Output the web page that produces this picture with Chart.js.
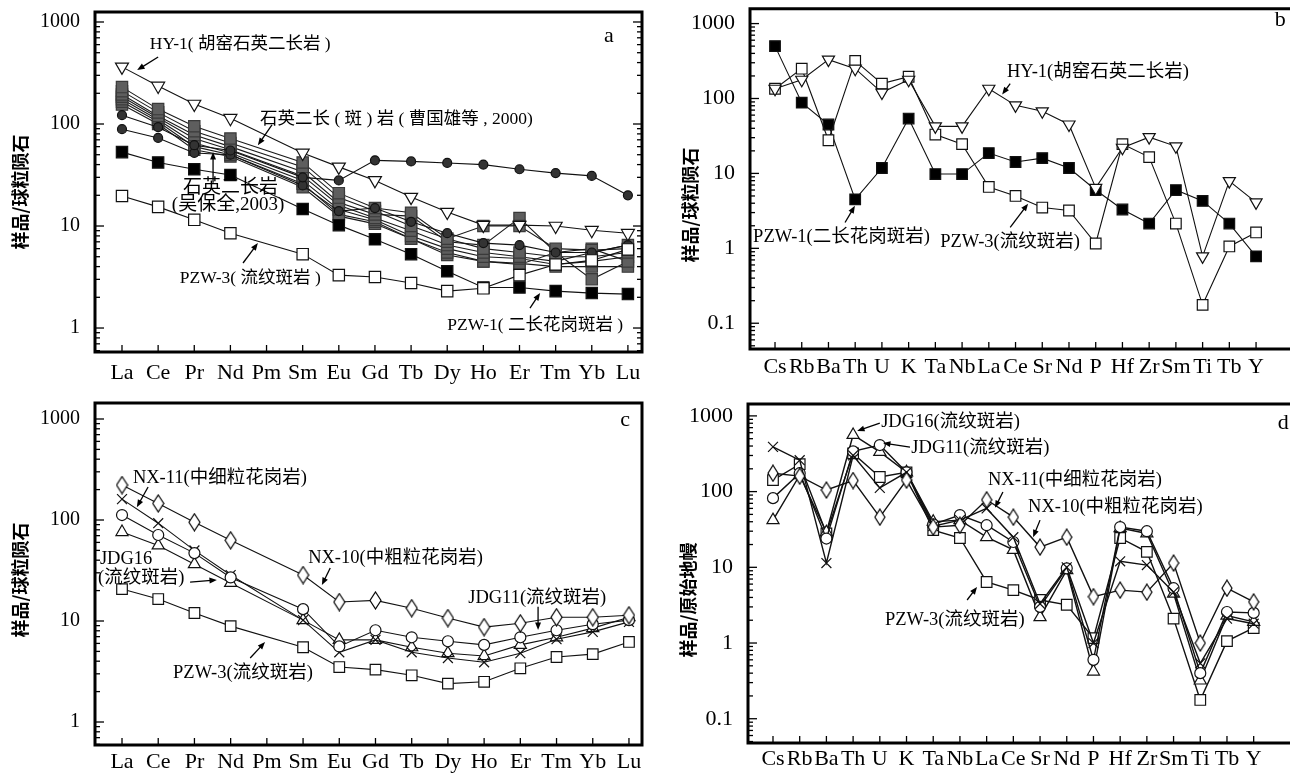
<!DOCTYPE html>
<html>
<head>
<meta charset="utf-8">
<script src="https://cdn.jsdelivr.net/npm/chart.js@4.4.1/dist/chart.umd.min.js"></script>
<style>
  body { margin: 0; background: #fff; width: 1301px; height: 776px; overflow: hidden; position: relative; }
  canvas { position: absolute; }
</style>
</head>
<body>
<canvas id="pa" width="655" height="390" style="left:0;top:0"></canvas>
<canvas id="pb" width="646" height="390" style="left:655px;top:0"></canvas>
<canvas id="pc" width="655" height="386" style="left:0;top:390px"></canvas>
<canvas id="pd" width="646" height="386" style="left:655px;top:390px"></canvas>
<script>
// element order on the x axes
const REE = ['La','Ce','Pr','Nd','Pm','Sm','Eu','Gd','Tb','Dy','Ho','Er','Tm','Yb','Lu'];
const SPIDER = ['Cs','Rb','Ba','Th','U','K','Ta','Nb','La','Ce','Sr','Nd','P','Hf','Zr','Sm','Ti','Tb','Y'];

// panel a: chondrite-normalised REE (Pm not analysed)
const aHY1  = [363,236,157,114,null,52,38,28,19.2,13.7,10.2,10.2,10,9.1,8.5];
const aPZW1 = [53,42,36,31.6,null,14.7,10.2,7.4,5.3,3.6,2.5,2.5,2.3,2.2,2.15];
const aPZW3 = [19.7,15.4,11.5,8.5,null,5.3,3.3,3.16,2.76,2.3,2.45,3.3,4.2,4.6,5.9];
const aCao1 = [122,93,62,55,null,30,28,44,43,41.5,40,36,33,31,20];
const aCao2 = [89,73,52,50,null,25,14,15,11,8.5,6.8,6.5,5.5,5.5,6.5];
const aWu1 = [230,140,95,72,null,42,21,15,13.5,7.5,6,5.5,5,5,5.5];
const aWu2 = [210,130,85,65,null,38,19,14,10,7.5,10,10,6,5.8,6];
const aWu3 = [195,120,78,60,null,34,17,13,12.5,7,6.5,12,5.5,3,4.5];
const aWu4 = [185,115,72,56,null,31,16,12,9,6.5,5.5,5,4.5,5.5,6.5];
const aWu5 = [175,110,65,52,null,28,14.5,11.5,8,6,5,4.8,4.2,4.5,5];
const aWu6 = [165,105,60,50,null,26,13,11,7.5,5.5,4.5,4.3,4,4,4];
const aWu7 = [155,100,56,48,null,24,12.5,10.5,7.5,5.2,4.5,4.2,5.5,6,4.5];

// panel b: chondrite-normalised trace elements
const bPZW1 = [500,88,45,4.5,11.8,54,9.8,9.8,18.7,14.2,16,11.8,6,3.3,2.14,6,4.3,2.14,0.78];
const bHY1  = [135,178,330,250,120,178,42.5,42.5,135,81,67.5,45,6.4,22,30.5,23,0.78,7.9,4.1];
const bPZW3 = [135,250,27.7,318,158,195,33,24.6,6.6,5.0,3.5,3.2,1.16,24.6,16.5,2.14,0.176,1.06,1.63];

// panel c: chondrite-normalised REE
const cNX10  = [222,146,95,63,null,28.5,15.4,16,13.4,10.7,8.7,9.5,10.9,10.9,11.4];
const cNX11  = [161,93,50,28.5,null,10.2,4.9,6.5,4.9,4.3,3.9,4.8,6.6,7.8,9.8];
const cJDG11 = [112,71,47,27,null,13.1,5.6,8.1,6.9,6.3,5.8,6.9,8.1,9.3,10.2];
const cJDG16 = [76,56,36.5,23.8,null,10.2,6.5,6.5,5.5,4.8,4.5,5.8,6.9,8.5,10.9];
const cPZW3  = [20.7,16.5,12,8.9,null,5.5,3.5,3.3,2.9,2.4,2.5,3.4,4.4,4.7,6.2];

// panel d: primitive-mantle-normalised trace elements
const dJDG16 = [42,165,29,560,335,180,40,42,25,17,2.2,9.2,0.42,33,28,4.5,0.32,2.3,1.9];
const dJDG11 = [82,175,24,340,412,180,37,49,36,21.6,3.0,9.7,0.6,34,30,5.3,0.40,2.57,2.5];
const dNX11  = [390,260,11.4,300,112,180,35,42,60,25,3.3,10,1.0,12,10.7,4.7,0.54,2.1,1.8];
const dNX10  = [175,160,105,140,46,142,34,36,78,46,18.5,25,4.1,5,4.7,11.4,1.0,5.3,3.5];
const dPZW3  = [142,230,28,320,156,180,31,24.4,6.4,5.0,3.7,3.2,1.16,24.4,16,2.1,0.177,1.06,1.58];

const SERIF = '"Liberation Serif", "Times New Roman", serif';
const MIXED = '"Liberation Serif", "Noto Sans CJK SC", serif';

// tall open diamond marker
function diamond(w, h) {
  const c = document.createElement('canvas');
  c.width = w; c.height = h;
  const g = c.getContext('2d');
  g.beginPath();
  g.moveTo(w / 2, 1); g.lineTo(w - 1, h / 2); g.lineTo(w / 2, h - 1); g.lineTo(1, h / 2); g.closePath();
  g.fillStyle = '#fff'; g.fill();
  g.strokeStyle = '#000'; g.lineWidth = 1.2; g.stroke();
  return c;
}

function line(vals, st) {
  return Object.assign({
    data: vals.map((v, i) => ({ x: i, y: v })),
    spanGaps: true,
    borderColor: '#111',
    borderWidth: 1.1,
    pointBorderColor: '#111',
    pointBorderWidth: 1.2,
    pointBackgroundColor: '#fff',
    tension: 0
  }, st);
}

const triDown = { pointStyle: 'triangle', rotation: 180, pointRadius: 7.5 };
const triUp = { pointStyle: 'triangle', pointRadius: 7 };
const openSq = { pointStyle: 'rect', pointRadius: 8 };
const blackSq = { pointStyle: 'rect', pointRadius: 8, pointBackgroundColor: '#000' };
const graySq = { pointStyle: 'rect', pointRadius: 8, pointBackgroundColor: '#5e5e5e', pointBorderColor: '#3a3a3a', borderColor: '#1a1a1a' };
const dot = { pointStyle: 'circle', pointRadius: 4.5, pointBackgroundColor: '#333' };
const ring = { pointStyle: 'circle', pointRadius: 5.5 };
const cross = { pointStyle: 'crossRot', pointRadius: 7 };
const dia = { pointStyle: diamond(13, 19), pointRadius: 7 };

function arrow(ctx, x1, y1, x2, y2) {
  const a = Math.atan2(y2 - y1, x2 - x1), h = 8;
  ctx.beginPath();
  ctx.moveTo(x1, y1);
  ctx.lineTo(x2 - Math.cos(a) * h * 0.7, y2 - Math.sin(a) * h * 0.7);
  ctx.stroke();
  ctx.beginPath();
  ctx.moveTo(x2, y2);
  ctx.lineTo(x2 - h * Math.cos(a - 0.38), y2 - h * Math.sin(a - 0.38));
  ctx.lineTo(x2 - h * Math.cos(a + 0.38), y2 - h * Math.sin(a + 0.38));
  ctx.closePath();
  ctx.fill();
}

function deco(o) {
  return {
    id: 'deco',
    afterDraw(chart) {
      const { ctx, chartArea: a, scales: { x, y } } = chart;
      const seg = (x1, y1, x2, y2) => { ctx.beginPath(); ctx.moveTo(x1, y1); ctx.lineTo(x2, y2); ctx.stroke(); };
      ctx.save();
      ctx.strokeStyle = '#000';
      ctx.lineWidth = 1.3;
      // minor and major ticks on the log axis
      const lo = Math.floor(Math.log10(y.min)), hi = Math.ceil(Math.log10(y.max));
      for (let d = lo; d <= hi; d++) {
        for (let m = 1; m < 10; m++) {
          const v = m * Math.pow(10, d);
          if (v < y.min || v > y.max) continue;
          const py = y.getPixelForValue(v), len = m === 1 ? 9 : 5;
          seg(a.left, py, a.left + len, py);
          if (o.rticks) seg(a.right, py, a.right - len, py);
        }
      }
      o.names.forEach((n, i) => {
        const px = x.getPixelForValue(i);
        seg(px, a.bottom, px, a.bottom - 7);
      });
      // axis frame
      ctx.lineWidth = 3;
      ctx.beginPath();
      if (o.box === 'full') {
        ctx.rect(a.left, a.top, a.right - a.left, a.bottom - a.top);
      } else {
        ctx.moveTo(a.right, a.top); ctx.lineTo(a.left, a.top);
        ctx.lineTo(a.left, a.bottom); ctx.lineTo(a.right, a.bottom);
      }
      ctx.stroke();
      // y-axis title
      ctx.fillStyle = '#000';
      ctx.save();
      ctx.translate(o.title.x, o.title.y);
      ctx.rotate(-Math.PI / 2);
      ctx.textAlign = 'center';
      ctx.textBaseline = 'middle';
      ctx.font = 'bold 18px "Noto Sans CJK SC", sans-serif';
      ctx.fillText(o.title.t, 0, 0);
      ctx.restore();
      // labels and arrows
      ctx.textAlign = 'left';
      ctx.textBaseline = 'middle';
      o.notes.forEach(n => {
        ctx.font = (n.size || o.noteSize) + 'px ' + MIXED;
        ctx.fillText(n.t, x.getPixelForValue(n.x), y.getPixelForValue(n.y));
      });
      ctx.lineWidth = 1.3;
      o.arrows.forEach(r => arrow(ctx, x.getPixelForValue(r[0]), y.getPixelForValue(r[1]),
                                        x.getPixelForValue(r[2]), y.getPixelForValue(r[3])));
      ctx.restore();
    }
  };
}

function panel(id, o) {
  return new Chart(document.getElementById(id), {
    type: 'line',
    data: { datasets: o.datasets },
    options: {
      responsive: false,
      animation: false,
      layout: { padding: o.pad },
      plugins: { legend: { display: false }, tooltip: { enabled: false } },
      scales: {
        x: {
          type: 'linear', bounds: 'data', min: o.xmin, max: o.xmax,
          grid: { display: false }, border: { display: false },
          afterBuildTicks: s => { s.ticks = o.names.map((n, i) => ({ value: i })); },
          afterFit: s => { s.height = o.xh; s.paddingLeft = 0; s.paddingRight = 0; },
          ticks: {
            autoSkip: false, maxRotation: 0, minRotation: 0, padding: o.xpad,
            color: '#000', font: { family: SERIF, size: o.xfs },
            callback: (v, i) => o.names[i]
          }
        },
        y: {
          type: 'logarithmic', bounds: 'data', min: o.ymin, max: o.ymax,
          grid: { display: false }, border: { display: false },
          afterBuildTicks: s => { s.ticks = o.yticks.map(v => ({ value: v })); },
          afterFit: s => { s.width = o.yw; s.paddingTop = 0; s.paddingBottom = 0; },
          ticks: {
            padding: o.ypad, color: '#000', font: { family: SERIF, size: o.yfs },
            callback: v => String(v)
          }
        }
      }
    },
    plugins: [deco(o)]
  });
}

panel('pa', {
  names: REE, xmin: -0.747, xmax: 14.39, ymin: 0.582, ymax: 1253,
  yticks: [1, 10, 100, 1000], pad: { top: 12, right: 13, left: 0, bottom: 0 },
  yw: 95, xh: 38, xpad: 0, ypad: 7, xfs: 22, yfs: 20,
  box: 'full', rticks: true, noteSize: 17.5,
  title: { t: '样品/球粒陨石', x: 20, y: 192 },
  datasets: [
    line(aHY1, triDown), line(aPZW3, openSq), line(aPZW1, blackSq),
    line(aCao1, dot), line(aCao2, dot),
    line(aWu1, graySq), line(aWu2, graySq), line(aWu3, graySq), line(aWu4, graySq),
    line(aWu5, graySq), line(aWu6, graySq), line(aWu7, graySq)
  ],
  notes: [
    { t: 'HY-1( 胡窑石英二长岩 )', x: 0.77, y: 605 },
    { t: '石英二长 ( 斑 ) 岩 ( 曹国雄等 , 2000)', x: 3.82, y: 110 },
    { t: '石英二长岩', x: 1.69, y: 23.6, size: 19 },
    { t: '(吴保全,2003)', x: 1.38, y: 16, size: 19 },
    { t: 'PZW-3( 流纹斑岩 )', x: 1.6, y: 3.09 },
    { t: 'PZW-1( 二长花岗斑岩 )', x: 9.0, y: 1.05 },
    { t: 'a', x: 13.34, y: 727, size: 22 }
  ],
  arrows: [[1.0, 454, 0.42, 338], [4.15, 98, 3.76, 62], [2.52, 26.5, 2.52, 53],
           [3.35, 4.34, 3.76, 6.8], [11.29, 1.57, 11.57, 2.2]]
});

panel('pb', {
  names: SPIDER, xmin: -0.936, xmax: 19.27, ymin: 0.0453, ymax: 1580,
  yticks: [0.1, 1, 10, 100, 1000], pad: { top: 7, right: 11, left: 0, bottom: 0 },
  yw: 95, xh: 41, xpad: -3, ypad: 7, xfs: 22, yfs: 22,
  box: 'lbt', rticks: false, noteSize: 18.5,
  title: { t: '样品/球粒陨石', x: 35, y: 205 },
  datasets: [
    line(bHY1, Object.assign({}, triDown, { pointRadius: 7 })),
    line(bPZW3, Object.assign({}, openSq, { pointRadius: 7.5 })),
    line(bPZW1, Object.assign({}, blackSq, { pointRadius: 7.5 }))
  ],
  notes: [
    { t: 'HY-1(胡窑石英二长岩)', x: 8.68, y: 228 },
    { t: 'PZW-1(二长花岗斑岩)', x: -0.82, y: 1.4 },
    { t: 'PZW-3(流纹斑岩)', x: 6.18, y: 1.2 },
    { t: 'b', x: 18.7, y: 1120, size: 22 }
  ],
  arrows: [[8.8, 158, 8.5, 113], [2.62, 2.21, 2.99, 3.7], [8.8, 1.9, 9.47, 3.95]]
});

panel('pc', {
  names: REE, xmin: -0.746, xmax: 14.36, ymin: 0.592, ymax: 1440,
  yticks: [1, 10, 100, 1000], pad: { top: 13, right: 13, left: 0, bottom: 0 },
  yw: 95, xh: 31, xpad: -4, ypad: 7, xfs: 22, yfs: 20,
  box: 'full', rticks: false, noteSize: 18.5,
  title: { t: '样品/球粒陨石', x: 20, y: 190 },
  datasets: [
    line(cNX10, dia), line(cJDG11, ring), line(cNX11, cross), line(cJDG16, triUp),
    line(cPZW3, Object.assign({}, openSq, { pointRadius: 7.5 }))
  ],
  notes: [
    { t: 'NX-11(中细粒花岗岩)', x: 0.30, y: 260 },
    { t: 'NX-10(中粗粒花岗岩)', x: 5.14, y: 42 },
    { t: 'JDG16', x: -0.61, y: 41 },
    { t: '(流纹斑岩)', x: -0.66, y: 26.7 },
    { t: 'JDG11(流纹斑岩)', x: 9.56, y: 16.9 },
    { t: 'PZW-3(流纹斑岩)', x: 1.41, y: 3.06 },
    { t: 'c', x: 13.76, y: 977, size: 22 }
  ],
  arrows: [[0.72, 212, 0.41, 134], [5.75, 33.5, 5.52, 22.7], [1.88, 24.3, 2.62, 25.5],
           [11.49, 13.8, 11.49, 8.15], [3.54, 4.3, 3.95, 6.2]]
});

panel('pd', {
  names: SPIDER, xmin: -0.936, xmax: 19.36, ymin: 0.0478, ymax: 1436,
  yticks: [0.1, 1, 10, 100, 1000], pad: { top: 14, right: 11, left: 0, bottom: 0 },
  yw: 93, xh: 33, xpad: -5, ypad: 7, xfs: 22, yfs: 22,
  box: 'lbt', rticks: false, noteSize: 18.5,
  title: { t: '样品/原始地幔', x: 33, y: 210 },
  datasets: [
    line(dNX10, Object.assign({}, dia, { pointStyle: diamond(12, 18), borderWidth: 1.4 })),
    line(dNX11, Object.assign({}, cross, { borderWidth: 1.4 })),
    line(dJDG11, Object.assign({}, ring, { borderWidth: 1.4 })),
    line(dJDG16, Object.assign({}, triUp, { borderWidth: 1.4 })),
    line(dPZW3, Object.assign({}, openSq, { pointRadius: 7.5, borderWidth: 1.4 }))
  ],
  notes: [
    { t: 'JDG16(流纹斑岩)', x: 4.05, y: 830 },
    { t: 'JDG11(流纹斑岩)', x: 5.18, y: 377 },
    { t: 'NX-11(中细粒花岗岩)', x: 8.05, y: 142 },
    { t: 'NX-10(中粗粒花岗岩)', x: 9.55, y: 63 },
    { t: 'PZW-3(流纹斑岩)', x: 4.19, y: 2.0 },
    { t: 'd', x: 18.9, y: 805, size: 22 }
  ],
  arrows: [[4.0, 805, 3.15, 632], [5.13, 388, 4.12, 437], [8.61, 99, 8.31, 61],
           [10.0, 42, 9.74, 25], [7.27, 3.7, 7.64, 5.5]]
});
</script>
</body>
</html>
